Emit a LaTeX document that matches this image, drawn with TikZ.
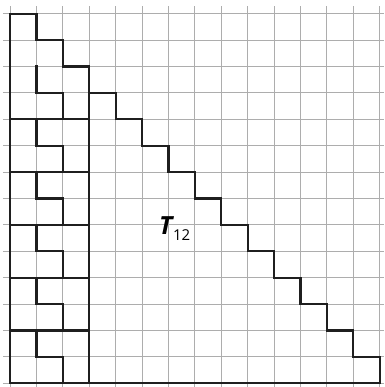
\documentclass[tikz,border=0pt]{standalone}
\usepackage{fontspec}
\setmainfont{Open Sans}
\begin{document}
\begin{tikzpicture}[x=26.4pt,y=26.4pt,
  gridline/.style={draw=black!32,line width=0.9pt},
  edge/.style={draw=black!88,line width=2.2pt,line join=miter,line cap=rect},
  lab/.style={inner sep=0pt,anchor=base west}]
\useasboundingbox (-0.379,-0.14) rectangle (14.167,14.519);
% grid
\foreach \i in {0,...,14} \draw[gridline] (-0.27,\i) -- (14.167,\i);
\foreach \i in {0,...,14} \draw[gridline] (\i,-0.14) -- (\i,14.29);
% left column of pieces
\draw[edge] (0,0) -- (0,14) -- (1,14) -- (1,13) -- (2,13) -- (2,12) -- (3,12) -- (3,0);
\foreach \b in {0,2,...,10} \draw[edge] (0,\b) -- (3,\b);
\foreach \b in {0,2,...,10} \draw[edge] (1,\b+2) -- (1,\b+1) -- (2,\b+1) -- (2,\b);
% staircase T12
\draw[edge] (3,11) \foreach \k in {4,...,14} { -- (\k,{15-\k}) -- (\k,{14-\k}) } -- (3,0);
% label
\node[lab] (t) at (5.64,5.64) {\fontsize{25}{25}\selectfont\bfseries\itshape T};
\node[lab] (sub) at ([xshift=0.3pt,yshift=-5.8pt]t.base east) {\fontsize{15}{15}\selectfont 12};
\end{tikzpicture}
\end{document}
